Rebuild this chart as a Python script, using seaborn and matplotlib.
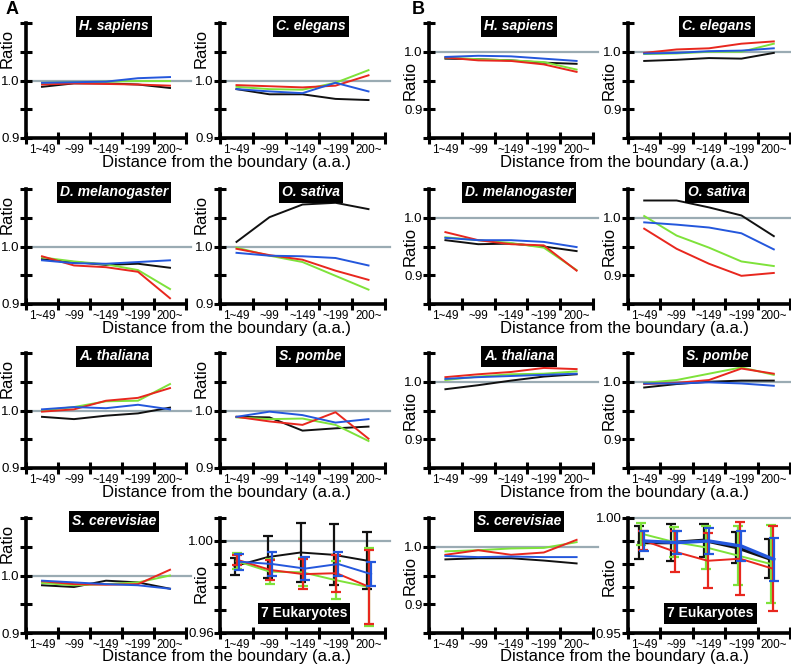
import numpy as np
import pandas as pd
import seaborn as sns
import matplotlib.pyplot as plt
from matplotlib.ticker import FixedLocator, NullFormatter, FixedFormatter

bins = ['1~49', '~99', '~149', '~199', '200~']
series = ['black', 'green', 'red', 'blue']
colors = {'black': '#111111', 'green': '#7ee23a', 'red': '#e8271e', 'blue': '#2457dc'}

# panel A, values per series (black, green, red, blue)
A_hsap = {'black': [0.989, 0.995, 0.995, 0.993, 0.987],
          'green': [0.996, 0.997, 0.998, 0.999, 0.999],
          'red':   [0.993, 0.995, 0.994, 0.993, 0.991],
          'blue':  [0.996, 0.997, 0.998, 1.004, 1.006]}
A_cele = {'black': [0.985, 0.976, 0.976, 0.968, 0.966],
          'green': [0.989, 0.985, 0.984, 0.996, 1.018],
          'red':   [0.992, 0.990, 0.988, 0.991, 1.009],
          'blue':  [0.985, 0.981, 0.978, 0.996, 0.981]}
A_dmel = {'black': [0.978, 0.973, 0.968, 0.970, 0.963],
          'green': [0.981, 0.974, 0.969, 0.959, 0.926],
          'red':   [0.983, 0.967, 0.964, 0.956, 0.910],
          'blue':  [0.976, 0.971, 0.970, 0.973, 0.976]}
A_osat = {'black': [1.008, 1.051, 1.073, 1.076, 1.065],
          'green': [0.998, 0.984, 0.973, 0.949, 0.925],
          'red':   [0.996, 0.985, 0.977, 0.958, 0.942],
          'blue':  [0.989, 0.984, 0.983, 0.980, 0.967]}
A_atha = {'black': [0.989, 0.985, 0.991, 0.995, 1.005],
          'green': [1.000, 1.006, 1.016, 1.017, 1.046],
          'red':   [0.998, 1.002, 1.017, 1.022, 1.039],
          'blue':  [1.002, 1.006, 1.004, 1.010, 1.002]}
A_spom = {'black': [0.989, 0.988, 0.965, 0.969, 0.972],
          'green': [0.988, 0.985, 0.986, 0.975, 0.947],
          'red':   [0.989, 0.981, 0.975, 0.997, 0.951],
          'blue':  [0.989, 0.998, 0.992, 0.979, 0.985]}
A_scer = {'black': [0.983, 0.980, 0.991, 0.988, 0.977],
          'green': [0.987, 0.983, 0.985, 0.988, 1.000],
          'red':   [0.990, 0.985, 0.984, 0.985, 1.010],
          'blue':  [0.991, 0.988, 0.985, 0.983, 0.977]}
A_euk_mean = {'black': [0.9890, 0.9930, 0.9950, 0.9940, 0.9915],
              'green': [0.9913, 0.9867, 0.9864, 0.9830, 0.9800],
              'red':   [0.9918, 0.9874, 0.9856, 0.9860, 0.9800],
              'blue':  [0.9910, 0.9900, 0.9880, 0.9900, 0.9856]}
A_euk_err = {'black': [0.0038, 0.0090, 0.0130, 0.0133, 0.0124],
             'green': [0.0036, 0.0056, 0.0061, 0.0083, 0.0168],
             'red':   [0.0023, 0.0043, 0.0064, 0.0080, 0.0160],
             'blue':  [0.0035, 0.0053, 0.0050, 0.0054, 0.0052]}

# panel B
B_hsap = {'black': [0.988, 0.987, 0.985, 0.981, 0.979],
          'green': [0.990, 0.987, 0.985, 0.982, 0.969],
          'red':   [0.990, 0.985, 0.984, 0.978, 0.965],
          'blue':  [0.991, 0.993, 0.992, 0.988, 0.984]}
B_cele = {'black': [0.984, 0.986, 0.989, 0.988, 0.998],
          'green': [0.996, 0.997, 1.000, 1.000, 1.014],
          'red':   [0.998, 1.004, 1.006, 1.014, 1.018],
          'blue':  [0.997, 0.998, 1.001, 1.002, 1.006]}
B_dmel = {'black': [0.961, 0.954, 0.955, 0.950, 0.942],
          'green': [0.966, 0.961, 0.956, 0.948, 0.909],
          'red':   [0.975, 0.961, 0.954, 0.952, 0.908],
          'blue':  [0.965, 0.961, 0.961, 0.958, 0.949]}
B_osat = {'black': [1.030, 1.030, 1.018, 1.004, 0.968],
          'green': [1.003, 0.969, 0.948, 0.924, 0.916],
          'red':   [0.981, 0.946, 0.920, 0.899, 0.904],
          'blue':  [0.992, 0.988, 0.983, 0.973, 0.945]}
B_atha = {'black': [0.987, 0.994, 1.002, 1.009, 1.013],
          'green': [1.003, 1.009, 1.013, 1.014, 1.018],
          'red':   [1.008, 1.013, 1.017, 1.024, 1.022],
          'blue':  [1.005, 1.008, 1.010, 1.012, 1.014]}
B_spom = {'black': [0.990, 0.996, 1.000, 1.002, 1.002],
          'green': [0.998, 1.003, 1.014, 1.025, 1.012],
          'red':   [0.996, 0.998, 1.003, 1.023, 1.014],
          'blue':  [0.997, 0.997, 0.999, 0.997, 0.993]}
B_scer = {'black': [0.978, 0.980, 0.980, 0.976, 0.971],
          'green': [0.992, 0.994, 0.997, 0.998, 1.008],
          'red':   [0.986, 0.994, 0.986, 0.990, 1.012],
          'blue':  [0.984, 0.982, 0.983, 0.982, 0.982]}
B_euk_mean = {'black': [0.9893, 0.9893, 0.9903, 0.9872, 0.9824],
              'green': [0.9932, 0.9896, 0.9872, 0.9836, 0.9800],
              'red':   [0.9903, 0.9853, 0.9814, 0.9823, 0.9780],
              'blue':  [0.9900, 0.9893, 0.9900, 0.9878, 0.9820]}
B_euk_err = {'black': [0.0073, 0.0079, 0.0073, 0.0068, 0.0086],
             'green': [0.0048, 0.0065, 0.0092, 0.0128, 0.0170],
             'red':   [0.0041, 0.0089, 0.0120, 0.0158, 0.0186],
             'blue':  [0.0045, 0.0049, 0.0058, 0.0065, 0.0092]}

titles = ['H. sapiens', 'C. elegans', 'D. melanogaster', 'O. sativa',
          'A. thaliana', 'S. pombe', 'S. cerevisiae']
A_panels = [A_hsap, A_cele, A_dmel, A_osat, A_atha, A_spom, A_scer]
B_panels = [B_hsap, B_cele, B_dmel, B_osat, B_atha, B_spom, B_scer]

plt.rcParams['font.family'] = ['Liberation Sans', 'DejaVu Sans']
fig = plt.figure(figsize=(7.91, 6.66), dpi=100)

W, H = 791, 666
col_left = {'A': [26, 220], 'B': [429, 628]}
col_w = {'A': [160, 165], 'B': [164, 162]}
row_bottom = [138, 304, 468, 633]
ax_h = 115
xpos = np.arange(5) + 0.5


def style_axes(ax, ylo, yhi, yticks, ylabels, label_y):
    sns.despine(ax=ax)
    ax.spines['left'].set_linewidth(2.6)
    ax.spines['bottom'].set_linewidth(2.6)
    ax.set_xlim(0, 5)
    ax.set_ylim(ylo, yhi)
    ax.xaxis.set_major_locator(FixedLocator(range(6)))
    ax.xaxis.set_major_formatter(NullFormatter())
    ax.xaxis.set_minor_locator(FixedLocator(xpos))
    ax.xaxis.set_minor_formatter(FixedFormatter(bins))
    ax.tick_params(axis='x', which='major', direction='inout', length=9, width=2.2)
    ax.tick_params(axis='x', which='minor', length=0, pad=4, labelsize=8.5)
    ax.yaxis.set_major_locator(FixedLocator(yticks))
    ax.set_yticklabels(ylabels)
    ax.tick_params(axis='y', direction='inout', length=9, width=2.2, pad=0, labelsize=9.5)
    ax.set_xlabel('')
    ax.set_ylabel('Ratio', fontsize=12)
    ax.yaxis.set_label_coords(-0.07, label_y)
    ax.axhline(1.0, color='#9aabb3', lw=1.6, zorder=0, xmax=1.03, clip_on=False)
    ax.set_facecolor('none')
    ax.grid(False)


def draw_lines(ax, panel):
    df = pd.DataFrame([{'x': xpos[i], 'ratio': panel[s][i], 'series': s}
                       for s in series for i in range(5)])
    sns.lineplot(data=df, x='x', y='ratio', hue='series', hue_order=series,
                 palette=colors, lw=1.4, legend=False, ax=ax, sort=False)


def draw_euk(ax, means, errs, offsets, lw_main):
    for s in series:
        xs = xpos + offsets[s]
        df = pd.DataFrame({'x': xs, 'ratio': means[s]})
        sns.lineplot(data=df, x='x', y='ratio', color=colors[s],
                     lw=lw_main if s in ('black', 'blue') else 1.4, ax=ax)
        ax.errorbar(xs, means[s], yerr=errs[s], fmt='none', ecolor=colors[s],
                    elinewidth=1.6, capsize=3.5, capthick=1.6)


def add_title(ax, text, x=0.55, y=0.97, italic=True):
    ax.text(x, y, text, transform=ax.transAxes, ha='center', va='center',
            color='white', fontsize=10, fontweight='bold',
            style='italic' if italic else 'normal',
            bbox=dict(facecolor='black', edgecolor='none', pad=2.2))


for part in ['A', 'B']:
    panels = A_panels if part == 'A' else B_panels
    for k in range(8):
        r, c = divmod(k, 2)
        left = col_left[part][c]
        ax = fig.add_axes([left / W, 1 - row_bottom[r] / H, col_w[part][c] / W, ax_h / H])
        if k < 7:
            draw_lines(ax, panels[k])
            if part == 'A':
                style_axes(ax, 0.9, 1.1, [0.9, 0.95, 1.0, 1.05, 1.1],
                           ['0.9', '', '1.0', '', ''], 0.78)
            else:
                style_axes(ax, 0.85, 1.05, [0.85, 0.9, 0.95, 1.0, 1.05],
                           ['', '0.9', '', '1.0', ''], 0.5)
            add_title(ax, titles[k])
        else:
            if part == 'A':
                draw_euk(ax, A_euk_mean, A_euk_err,
                         {'black': -0.06, 'green': 0.0, 'red': 0.03, 'blue': 0.08}, 1.4)
                style_axes(ax, 0.96, 1.01, [0.96, 0.97, 0.98, 0.99, 1.0, 1.01],
                           ['0.96', '', '', '', '1.00', ''], 0.43)
            else:
                draw_euk(ax, B_euk_mean, B_euk_err,
                         {'black': -0.16, 'green': -0.09, 'red': -0.04, 'blue': 0.0}, 2.4)
                style_axes(ax, 0.95, 1.0, [0.95, 0.96, 0.97, 0.98, 0.99, 1.0],
                           ['0.95', '', '', '', '', '1.00'], 0.49)
            add_title(ax, '7 Eukaryotes', x=0.51, y=0.17, italic=False)

    xc = 227 if part == 'A' else 625
    for r in range(4):
        fig.text(xc / W, 1 - (row_bottom[r] + 24) / H,
                 'Distance from the boundary (a.a.)', ha='center', va='center', fontsize=12)

fig.text(12 / W, 1 - 9 / H, 'A', fontsize=13, fontweight='bold', ha='center', va='center')
fig.text(418 / W, 1 - 9 / H, 'B', fontsize=13, fontweight='bold', ha='center', va='center')

fig.savefig('out.png', dpi=100)
